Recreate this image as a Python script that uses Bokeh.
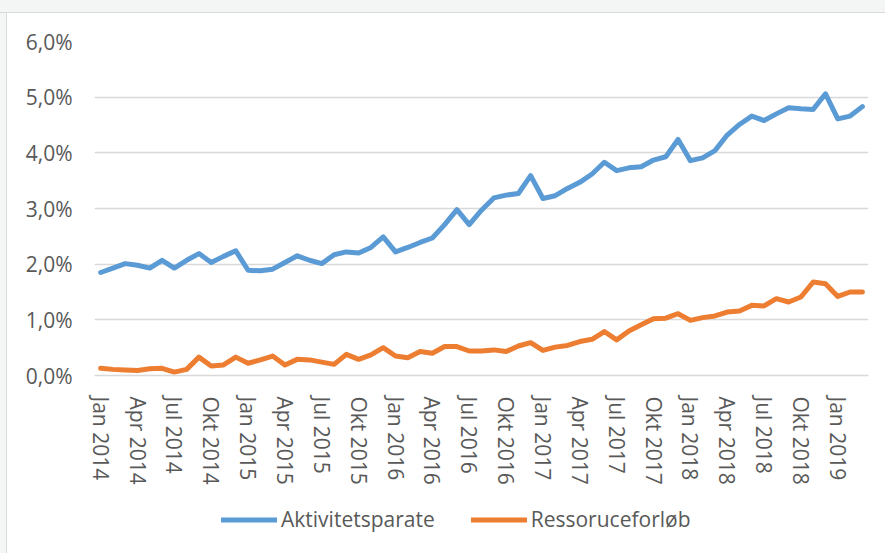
from bokeh.plotting import figure
from bokeh.models import FixedTicker, Legend, LegendItem, Spacer
from bokeh.layouts import column, row
from bokeh.embed import file_html
from bokeh.resources import INLINE

# Monthly share (%), Jan 2014 .. Mar 2019
aktivitetsparate = [
    1.85, 1.93, 2.01, 1.98, 1.93, 2.07, 1.93, 2.07, 2.19, 2.03, 2.14, 2.24,
    1.89, 1.88, 1.91, 2.03, 2.15, 2.07, 2.01, 2.17, 2.22, 2.20, 2.30, 2.49,
    2.22, 2.30, 2.39, 2.47, 2.71, 2.98, 2.71, 2.97, 3.19, 3.24, 3.27, 3.59,
    3.18, 3.23, 3.36, 3.47, 3.62, 3.83, 3.68, 3.73, 3.75, 3.87, 3.93, 4.24,
    3.86, 3.91, 4.04, 4.32, 4.51, 4.66, 4.58, 4.70, 4.81, 4.79, 4.78, 5.06,
    4.61, 4.66, 4.83,
]
ressoruceforlob = [
    0.13, 0.11, 0.10, 0.09, 0.12, 0.13, 0.06, 0.11, 0.33, 0.17, 0.19, 0.33,
    0.22, 0.28, 0.35, 0.19, 0.29, 0.28, 0.24, 0.20, 0.38, 0.29, 0.37, 0.50,
    0.35, 0.32, 0.43, 0.40, 0.52, 0.52, 0.44, 0.44, 0.46, 0.43, 0.53, 0.59,
    0.45, 0.51, 0.54, 0.61, 0.65, 0.79, 0.64, 0.80, 0.91, 1.02, 1.03, 1.11,
    0.99, 1.04, 1.07, 1.14, 1.16, 1.26, 1.25, 1.38, 1.32, 1.41, 1.68, 1.65,
    1.42, 1.50, 1.50,
]
tick_positions = [0, 3, 6, 9, 12, 15, 18, 21, 24, 27, 30, 33, 36, 39, 42, 45,
                  48, 51, 54, 57, 60]
tick_labels = ["Jan 2014", "Apr 2014", "Jul 2014", "Okt 2014",
               "Jan 2015", "Apr 2015", "Jul 2015", "Okt 2015",
               "Jan 2016", "Apr 2016", "Jul 2016", "Okt 2016",
               "Jan 2017", "Apr 2017", "Jul 2017", "Okt 2017",
               "Jan 2018", "Apr 2018", "Jul 2018", "Okt 2018",
               "Jan 2019"]
y_ticks = [0, 1, 2, 3, 4, 5, 6]
y_tick_labels = ["0,0%", "1,0%", "2,0%", "3,0%", "4,0%", "5,0%", "6,0%"]
series_names = ["Aktivitetsparate", "Ressoruceforløb"]
series_colors = ["#5B9BD5", "#ED7D31"]

months = list(range(len(aktivitetsparate)))

FONT = "Open Sans"
TXT = "#595959"
BG = "#f4f5f5"
EDGE = "#d9d9d9"

p = figure(frame_width=774, frame_height=334,
           x_range=(-0.5, len(months) - 0.5), y_range=(0, 6),
           output_backend="svg", toolbar_location=None,
           min_border_left=87, min_border_right=17,
           min_border_top=28, min_border_bottom=110,
           background_fill_color="white", border_fill_color="white")
p.outline_line_color = None

r1 = p.line(months, aktivitetsparate, line_color=series_colors[0], line_width=5,
            line_join="round", line_cap="round")
r2 = p.line(months, ressoruceforlob, line_color=series_colors[1], line_width=5,
            line_join="round", line_cap="round")

# x axis
p.xaxis.ticker = FixedTicker(ticks=tick_positions)
p.xaxis.major_label_overrides = {t: l for t, l in zip(tick_positions, tick_labels)}
p.xaxis.major_label_orientation = "vertical"
p.xaxis.major_label_text_font = FONT
p.xaxis.major_label_text_font_size = "21px"
p.xaxis.major_label_text_color = TXT
p.xaxis.major_label_standoff = 15
p.xaxis.axis_line_color = EDGE
p.xaxis.axis_line_width = 1.5
p.xaxis.major_tick_line_color = None
p.xaxis.minor_tick_line_color = None
p.xgrid.grid_line_color = None

# y axis
p.yaxis.ticker = FixedTicker(ticks=y_ticks)
p.yaxis.major_label_overrides = {t: l for t, l in zip(y_ticks, y_tick_labels)}
p.yaxis.major_label_text_font = FONT
p.yaxis.major_label_text_font_size = "21px"
p.yaxis.major_label_text_color = TXT
p.yaxis.major_label_standoff = 16
p.yaxis.axis_line_color = None
p.yaxis.major_tick_line_color = None
p.yaxis.minor_tick_line_color = None
p.ygrid.grid_line_color = EDGE
p.ygrid.grid_line_width = 1.5

# legend strip below the chart
leg_h = 540 - (28 + 334 + 110)
pl = figure(width=878, height=leg_h, x_range=(0, 1), y_range=(0, 1),
            output_backend="svg", toolbar_location=None,
            min_border_left=0, min_border_right=0, min_border_top=0,
            min_border_bottom=0,
            background_fill_color="white", border_fill_color="white")
pl.xaxis.visible = False
pl.yaxis.visible = False
pl.grid.visible = False
pl.outline_line_color = None
nan = float("nan")
l1 = pl.line(x=[nan], y=[nan], line_color=series_colors[0], line_width=5, line_cap="round")
l2 = pl.line(x=[nan], y=[nan], line_color=series_colors[1], line_width=5, line_cap="round")

legend = Legend(items=[LegendItem(label=series_names[0], renderers=[l1]),
                       LegendItem(label=series_names[1], renderers=[l2])],
                orientation="horizontal", location=(127, 22),
                glyph_width=56, glyph_height=21, label_height=21,
                label_standoff=4, spacing=36, padding=0, margin=0,
                border_line_color=None, background_fill_alpha=0,
                label_text_font=FONT, label_text_font_size="21px",
                label_text_color=TXT)
pl.add_layout(legend, "center")

top_strip = Spacer(width=885, height=13,
                   styles={"background": f"linear-gradient(to bottom, {BG} 12px, {EDGE} 12px)"})
left_strip = Spacer(width=7, height=540,
                    styles={"background": f"linear-gradient(to right, {BG} 6px, {EDGE} 6px)"})

chart = column(p, pl, spacing=0, styles={"background": "white"})
layout = column(top_strip,
                row(left_strip, chart, spacing=0, styles={"background": "white"}),
                spacing=0)

html = file_html(layout, INLINE)
html = html.replace("<head>", "<head><style>body{background:#f4f5f5;}</style>", 1)
open("out.html", "w").write(html)
